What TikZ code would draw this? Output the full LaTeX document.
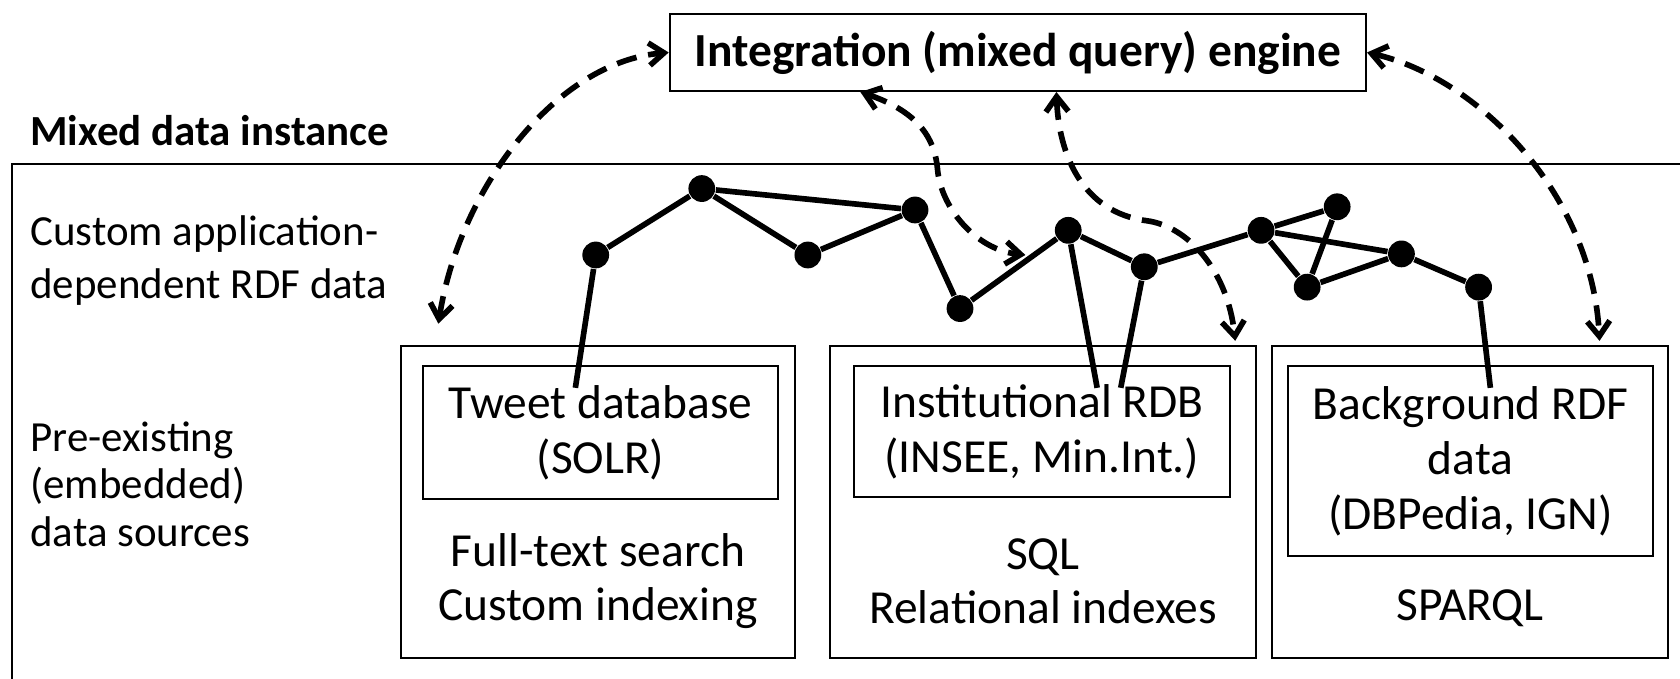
\documentclass[tikz,border=0pt]{standalone}
\usepackage{fontspec}
\setmainfont{Carlito}
\usetikzlibrary{arrows.meta}
\usetikzlibrary{calc}
\usetikzlibrary{positioning}
\newcommand\figfont{\fontsize{12.6}{14.5}\selectfont}
\newcommand\sidefont{\fontsize{11.4}{14.2}\selectfont}
\tikzset{
    % Open barbed tips for the query links
    >={Straight Barb[length=1.4mm,width=2.1mm]},
%
    % Text size used all through the figure
    every node/.style={font=\figfont},
%
    % The labels down the left side
    side label/.style={anchor=west, align=left, font=\sidefont},
    % A data source together with its query language
    source box/.style={draw, line width=0.5pt, inner sep=0pt},
    % The store itself, inside a source box
    store box/.style={draw, line width=0.5pt, align=center, inner sep=0pt},
    % A resource of the RDF graph
    dot/.style={circle, fill, inner sep=0pt, minimum size=2.5mm},
    % The links of the RDF graph
    rdf link/.style={line width=1.5pt},
    % The query links, both ways
    query link/.style={<->, line width=1.5pt, dash pattern=on 1.9mm off 1.1mm}}

\begin{document}
\begin{tikzpicture}
\useasboundingbox (0,0) rectangle (15.68,6.33);

\node [draw, line width=0.5pt, minimum width=6.5cm, minimum height=0.72cm,
    font=\figfont\bfseries]
    (engine) at (9.50,5.84) {Integration (mixed query) engine};

\node [side label, font=\sidefont\bfseries]
    (inst label) at (0.16,5.11) {Mixed data instance};
\node [draw, line width=0.5pt, anchor=north west, minimum width=16cm,
    minimum height=5.4cm]
    (inst) at (0.10,4.81) {};

\node [side label]
    (rdf label) at (0.16,3.90) {Custom application-\\dependent RDF data};
\node [side label, font=\fontsize{11.4}{12.5}\selectfont]
    (src label) at (0.16,1.81) {Pre-existing\\(embedded)\\data sources};

% the three sources
\node [source box, minimum width=3.68cm, minimum height=2.91cm]
    (src1) at (5.58,1.645) {};
\node [store box, minimum width=3.31cm, minimum height=1.24cm]
    (db1) at (5.605,2.29) {Tweet database\\(SOLR)};
\node [align=center] (qry1) at (5.58,0.905) {Full-text search\\Custom indexing};

\node [source box, minimum width=3.97cm, minimum height=2.91cm]
    (src2) at (9.735,1.645) {};
\node [store box, minimum width=3.51cm, minimum height=1.22cm]
    (db2) at (9.725,2.30) {Institutional RDB\\(INSEE, Min.Int.)};
\node [align=center] (qry2) at (9.735,0.905) {SQL\\Relational indexes};

\node [source box, minimum width=3.70cm, minimum height=2.91cm]
    (src3) at (13.72,1.645) {};
\node [store box, minimum width=3.41cm, minimum height=1.77cm]
    (db3) at (13.725,2.025) {Background RDF\\data\\(DBPedia, IGN)};
\node (qry3) at (13.72,0.65) {SPARQL};

% the RDF graph
\node [dot] (n1) at (5.56,3.95) {};
\node [dot] (n2) at (6.55,4.57) {};
\node [dot] (n3) at (7.54,3.95) {};
\node [dot] (n4) at (8.54,4.37) {};
\node [dot] (n5) at (8.96,3.45) {};
\node [dot] (n6) at (9.97,4.18) {};
\node [dot] (n7) at (10.68,3.84) {};
\node [dot] (n8) at (11.77,4.18) {};
\node [dot] (n9) at (12.48,4.40) {};
\node [dot] (n10) at (12.20,3.65) {};
\node [dot] (n11) at (13.08,3.96) {};
\node [dot] (n12) at (13.80,3.65) {};

\coordinate (t1) at (5.37,2.71);
\coordinate (t6) at (10.24,2.71);
\coordinate (t7) at (10.46,2.71);
\coordinate (t12) at (13.91,2.71);

\draw [rdf link] (n1) -- (n2) -- (n3) -- (n4) -- (n5) -- (n6) -- (n7) -- (n8)
    -- (n9) -- (n10) -- (n8);
\draw [rdf link] (n2) -- (n4);
\draw [rdf link] (n8) -- (n11) -- (n12);
\draw [rdf link] (n10) -- (n11);
\draw [rdf link] (n1) -- (t1);
\draw [rdf link] (n6) -- (t6);
\draw [rdf link] (n7) -- (t7);
\draw [rdf link] (n12) -- (t12);

% query links to the engine
\coordinate (a2 bend) at (8.75,4.75);
\coordinate (a2 end) at (9.57,3.95);
\coordinate (a3 bend) at (10.70,4.27);

\draw [query link] ([shift={(0.36,0.20)}]src1.north west)
    .. controls +(0.2,1.27) and +(-1.05,-0.09) .. (engine.west);
\draw [query link] ([xshift=-1.47cm]engine.south)
    .. controls +(0.47,-0.16) and +(-0.03,0.35) .. (a2 bend)
    .. controls +(0.03,-0.35) and +(-0.47,0.05) .. (a2 end);
\draw [query link] ([xshift=0.36cm]engine.south)
    .. controls +(0.02,-0.58) and +(-0.6,0.08) .. (a3 bend)
    .. controls +(0.4,-0.053) and +(-0.07,0.64)
    .. ([shift={(-0.2,0.04)}]src2.north east);
\draw [query link] (engine.east)
    .. controls +(1.05,-0.24) and +(-0.07,1.36)
    .. ([shift={(-0.65,0.04)}]src3.north east);

\end{tikzpicture}
\end{document}
